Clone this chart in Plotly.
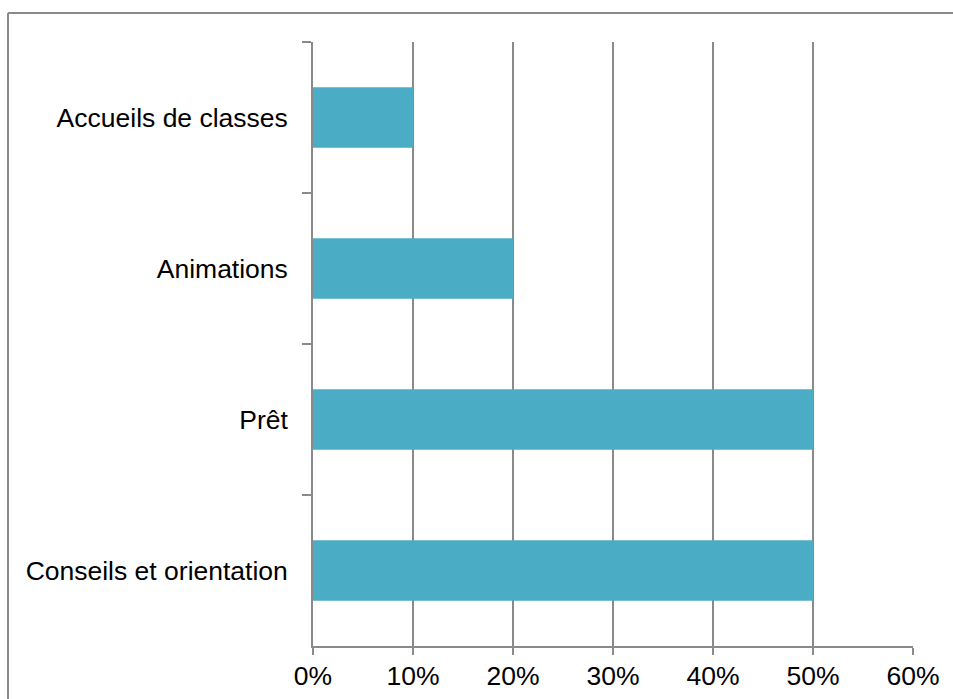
import plotly.graph_objects as go

categories = ["Accueils de classes", "Animations", "Prêt", "Conseils et orientation"]
values = [0.10, 0.20, 0.50, 0.50]
x_ticks = [0, 0.1, 0.2, 0.3, 0.4, 0.5, 0.6]
x_tick_labels = ["0%", "10%", "20%", "30%", "40%", "50%", "60%"]

GRAY = "#8a8a8a"
FONT = dict(family="Liberation Sans, Arial, sans-serif", size=26.5, color="#000000")

fig = go.Figure(go.Bar(
    x=values, y=categories, orientation="h",
    marker=dict(color="#4BACC6", line=dict(width=0)),
    width=0.4,
))

L, R, T, B = 313, 40, 42, 53
W, H = 953, 699
pw, ph = W - L - R, H - T - B

bx0 = (8 - L) / pw
bx1 = (W + 50 - L) / pw
by0 = -(B + 50) / ph
by1 = (H - B - 13) / ph

fig.update_layout(
    width=W, height=H,
    margin=dict(l=L, r=R, t=T, b=B, autoexpand=False),
    paper_bgcolor="white", plot_bgcolor="white",
    showlegend=False,
    font=FONT,
    xaxis=dict(
        range=[0, 0.6], tickvals=x_ticks, ticktext=x_tick_labels,
        showgrid=True, gridcolor=GRAY, gridwidth=1.7,
        showline=True, linecolor=GRAY, linewidth=1.7,
        ticks="outside", ticklen=7, tickcolor=GRAY, tickwidth=1.7,
        zeroline=False, tickfont=FONT, automargin=False,
        ticklabelstandoff=-2,
    ),
    yaxis=dict(
        type="category", autorange="reversed",
        showgrid=False, showline=True, linecolor=GRAY, linewidth=1.7,
        ticks="outside", tickson="boundaries", ticklen=9, tickcolor=GRAY, tickwidth=1.7,
        tickfont=FONT, ticklabelstandoff=18, automargin=False,
    ),
    shapes=[
        dict(type="line", xref="paper", yref="paper", x0=bx0, x1=bx1, y0=by1, y1=by1,
             line=dict(color=GRAY, width=2), layer="below"),
        dict(type="line", xref="paper", yref="paper", x0=bx0, x1=bx0, y0=by0, y1=by1,
             line=dict(color=GRAY, width=2), layer="below"),
    ],
)

fig.write_html(
    "out.html",
    config={"displayModeBar": False},
    post_script="document.body.style.margin='0';document.body.style.overflow='hidden';",
)
